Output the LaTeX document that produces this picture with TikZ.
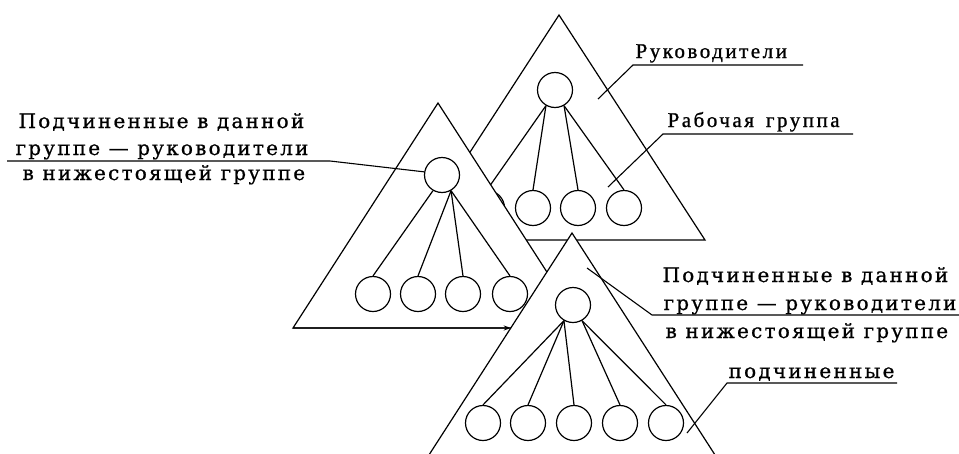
\documentclass[tikz,border=0pt]{standalone}
\usepackage{fontspec}
\setmainfont{Liberation Serif}
\newfontfamily\spaced[LetterSpace=12,FakeBold=1]{Liberation Serif}
\newfontfamily\wide[LetterSpace=11,FakeBold=0.8]{DejaVu Serif}
\usetikzlibrary{calc,arrows.meta}
\begin{document}
\begin{tikzpicture}[x=1pt,y=-1pt,line width=1.2pt,
  tri/.style={draw,fill=white,line join=miter},
  mem/.style={circle,draw,fill=white,minimum size=35pt,inner sep=0pt},
  txt/.style={anchor=base west,inner sep=0pt,font=\wide\fontsize{20}{20}\selectfont},
  txtsm/.style={anchor=base west,inner sep=0pt,font=\spaced\fontsize{21}{21}\selectfont},
  lead/.style={line width=1.1pt}]
\useasboundingbox (0,0) rectangle (959,453);
\clip (0,0) rectangle (959,453);

% ---------- top triangle (leaders) ----------
\coordinate (T1a) at (559,15);
\coordinate (T1l) at (413,240);
\coordinate (T1r) at (705,240);
\draw[tri] (T1a) -- (T1l) -- (T1r) -- cycle;
\node[mem] (T1root) at (555,90) {};
\node[mem] (T1c0) at (487,208) {};
\node[mem] (T1c1) at (533,208) {};
\node[mem] (T1c2) at (578,208) {};
\node[mem] (T1c3) at (624,208) {};
\draw (T1root.240) -- (T1c0.north);
\draw (T1root.240) -- (T1c1.north);
\draw (T1root.300) -- (T1c2.north);
\draw (T1root.300) -- (T1c3.north);

% callout: Руководители
\node[txtsm] (labA) at (635,58) {Руководители};
\coordinate (A1) at (633,65);
\coordinate (A2) at (803,65);
\coordinate (A3) at (598,99);
\draw[lead] (A3) -- (A1) -- (A2);

% callout: Рабочая группа
\node[txtsm] (labB) at (667,127) {Рабочая\hspace{12pt}группа};
\coordinate (B1) at (663,134);
\coordinate (B2) at (853,134);
\coordinate (B3) at (608,187);
\draw[lead] (B3) -- (B1) -- (B2);

% ---------- middle triangle ----------
\coordinate (T2a) at (438,103);
\coordinate (T2l) at (293,328);
\coordinate (T2r) at (583,328);
\draw[tri] (T2a) -- (T2l) -- (T2r) -- cycle;
\node[mem] (T2root) at (442,175) {};
\node[mem] (T2c1) at (373,294) {};
\node[mem] (T2c2) at (418,294) {};
\node[mem] (T2c3) at (463,294) {};
\node[mem] (T2c4) at (510,294) {};
\draw (T2root.240) -- (T2c1.north);
\draw (T2root.300) -- (T2c2.north);
\draw (T2root.300) -- (T2c3.north);
\draw (T2root.300) -- (T2c4.north);

% left callout
\node[txt] (labC1) at (18,128) {Подчиненные в данной};
\node[txt] (labC2) at (15,155) {группе — руководители};
\node[txt] (labC3) at (22,180) {в нижестоящей группе};
\coordinate (C1) at (7,161);
\coordinate (C2) at (330,161);
\draw[lead] (C1) -- (C2) -- (T2root.170);

% ---------- bottom triangle ----------
\coordinate (T3a) at (572,233);
\coordinate (T3l) at (427,458);
\coordinate (T3r) at (717,458);
\draw[tri] (T3a) -- (T3l) -- (T3r) -- cycle;
\node[mem] (T3root) at (573,305) {};
\node[mem] (T3c1) at (483,423) {};
\node[mem] (T3c2) at (528,423) {};
\node[mem] (T3c3) at (574,423) {};
\node[mem] (T3c4) at (620,423) {};
\node[mem] (T3c5) at (666,423) {};
\draw (T3root.240) -- (T3c1.north);
\draw (T3root.240) -- (T3c2.north);
\draw (T3root.240) -- (T3c3.north);
\draw (T3root.300) -- (T3c4.north);
\draw (T3root.300) -- (T3c5.north);

% right callout
\node[txt] (labD1) at (662,282) {Подчиненные в данной};
\node[txt] (labD2) at (663,310) {группе — руководители};
\node[txt] (labD3) at (665,338) {в нижестоящей группе};
\coordinate (D1) at (652,315);
\coordinate (D2) at (962,315);
\coordinate (D3) at (587,268);
\draw[lead] (D3) -- (D1) -- (D2);

% callout: подчиненные
\node[txt] (labE) at (728,378) {подчиненные};
\coordinate (E1) at (727,383);
\coordinate (E2) at (897,383);
\coordinate (E3) at (687,433);
\draw[lead] (E3) -- (E1) -- (E2);

% arrow along the base of the middle triangle
\coordinate (T3edge) at ($(T3a)!0.4222!(T3l)$);
\draw[-{Stealth[length=7pt,width=5pt]}] (T2l) -- (T3edge);
\end{tikzpicture}
\end{document}
